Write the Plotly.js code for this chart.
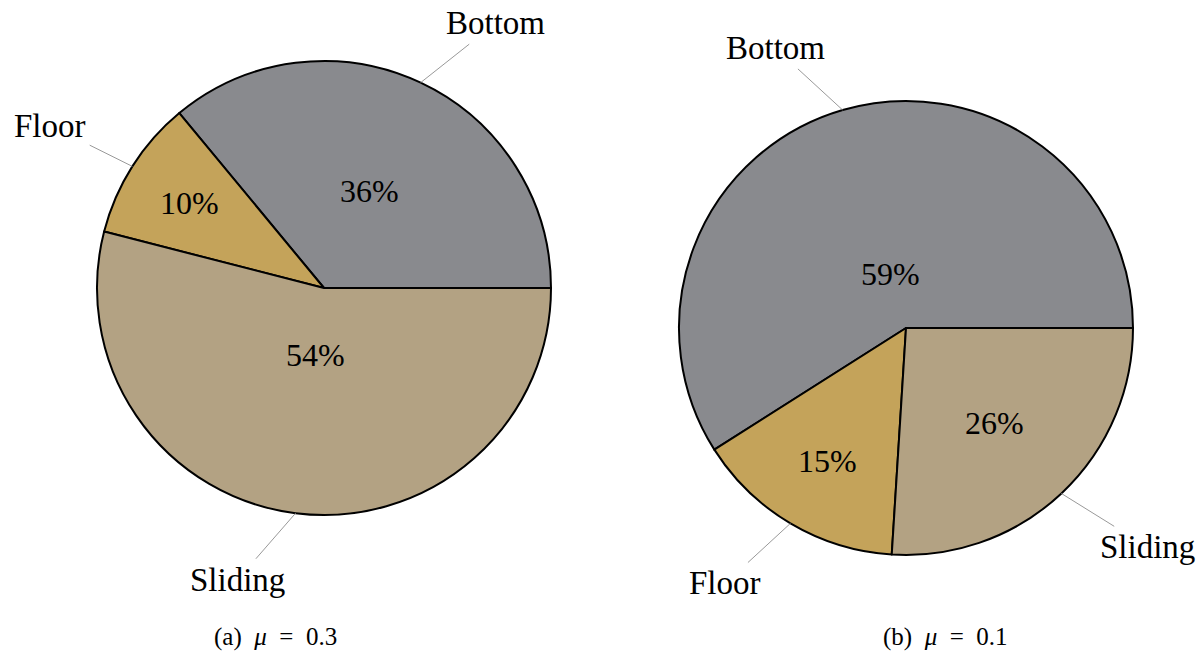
<!DOCTYPE html>
<html>
<head>
<meta charset="utf-8">
<script src="https://cdn.plot.ly/plotly-3.0.1.min.js"></script>
<style>html,body{margin:0;padding:0;background:#fff;}#chart{width:1203px;height:656px;}</style>
</head>
<body>
<div id="chart"></div>
<script>
// ---- data ----
const categories = ["Bottom", "Floor", "Sliding"];
const valuesA = [36, 10, 54];   // (a) mu = 0.3
const valuesB = [59, 15, 26];   // (b) mu = 0.1
const captionA = "(a)\u00a0\u00a0<i>μ</i>\u00a0\u00a0=\u00a0\u00a00.3";
const captionB = "(b)\u00a0\u00a0<i>μ</i>\u00a0\u00a0=\u00a0\u00a00.1";
const colors = ["#898a8e", "#c4a35a", "#b3a283"];

// ---- layout geometry ----
const W = 1203, H = 656;
const FONT = "Liberation Serif, Times New Roman, serif";
const LABEL_SIZE = 33;
const pies = [
  {values: valuesA, cx: 324, cy: 288, r: 227, caption: captionA, capX: 275},
  {values: valuesB, cx: 906, cy: 328, r: 227, caption: captionB, capX: 945}
];

const ctx = document.createElement("canvas").getContext("2d");
ctx.font = LABEL_SIZE + "px 'Liberation Serif'";
function textWidth(t) { return ctx.measureText(t).width; }

const traces = [];
const annotations = [];
pies.forEach(p => {
  const total = p.values.reduce((a, b) => a + b, 0);
  // first slice starts at 3 o'clock and slices run counter-clockwise
  const rot = 90 - 360 * p.values[0] / total;
  traces.push({
    type: "pie",
    labels: categories,
    values: p.values,
    sort: false,
    direction: "counterclockwise",
    rotation: rot,
    marker: {colors: colors, line: {color: "#000", width: 2}},
    textinfo: "none",
    hoverinfo: "label+percent",
    showlegend: false,
    domain: {
      x: [(p.cx - p.r) / W, (p.cx + p.r) / W],
      y: [1 - (p.cy + p.r) / H, 1 - (p.cy - p.r) / H]
    }
  });
  let cum = 0;
  p.values.forEach((v, i) => {
    const spanDeg = 360 * v / total;
    const th = 2 * Math.PI * (cum + v / 2) / total;
    cum += v;
    const c = Math.cos(th), s = Math.sin(th);
    // percentage inside the slice (pgf-pie style radial placement)
    const inner = Math.min(((spanDeg - 10) / 110) * (-0.3) + 0.8, 0.7);
    annotations.push({
      xref: "paper", yref: "paper",
      x: (p.cx + inner * p.r * c) / W, y: 1 - (p.cy - inner * p.r * s) / H,
      xanchor: "center", yanchor: "middle", showarrow: false,
      text: Math.round(100 * v / total) + "%",
      font: {family: FONT, size: 32, color: "#000"}
    });
    // outside label (pin style) with leader line
    const hx = p.cx + p.r * c, hy = p.cy - p.r * s;
    const k = 0.22 * p.r;
    const w = textWidth(categories[i]);
    const tx = k * c + (c >= 0 ? 1 : -1) * (w / 2 + 4);
    const ty = -k * s + (s >= 0 ? -14 : 17);
    annotations.push({
      xref: "paper", yref: "paper",
      x: hx / W, y: 1 - hy / H,
      ax: tx, ay: ty,
      xanchor: "center", yanchor: "middle",
      text: categories[i],
      showarrow: true, arrowhead: 0, arrowwidth: 1, arrowcolor: "#999",
      standoff: 0, startstandoff: 2,
      font: {family: FONT, size: LABEL_SIZE, color: "#000"}
    });
  });
  annotations.push({
    xref: "paper", yref: "paper",
    x: p.capX / W, y: 1 - 637 / H,
    xanchor: "center", yanchor: "middle",
    text: p.caption, showarrow: false,
    font: {family: FONT, size: 25, color: "#000"}
  });
});

const layout = {
  width: W, height: H,
  margin: {l: 0, r: 0, t: 0, b: 0},
  paper_bgcolor: "#fff",
  font: {family: FONT},
  annotations: annotations
};
Plotly.newPlot("chart", traces, layout, {displayModeBar: false, staticPlot: true});
</script>
</body>
</html>
